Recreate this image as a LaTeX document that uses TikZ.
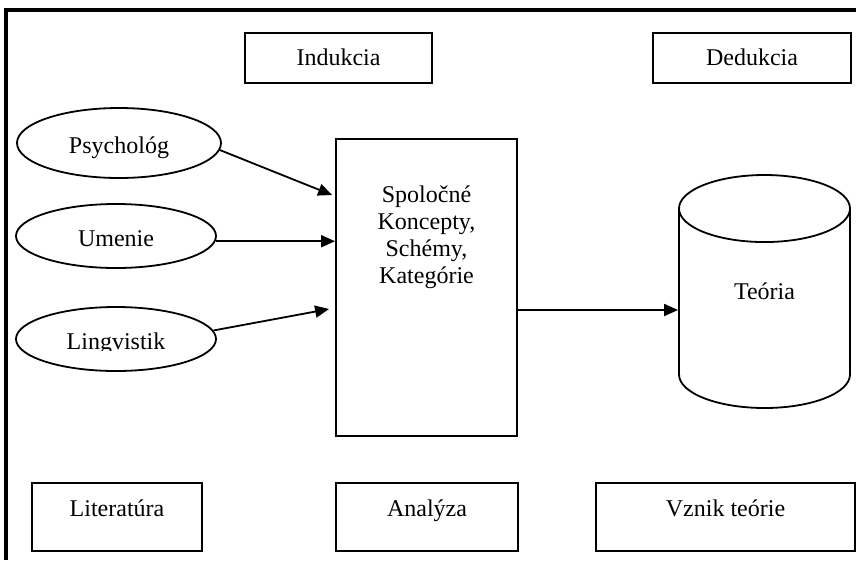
\documentclass[tikz,border=0pt]{standalone}
\usepackage{fontspec}
\setmainfont{Liberation Serif}
\usetikzlibrary{positioning,arrows.meta,shapes.geometric}
\tikzset{
  lbox/.style={rectangle, draw=black, line width=1.8pt, inner sep=0pt,
    font=\fontsize{24}{27}\selectfont},
  topbox/.style={lbox, minimum height=50pt, text height=17pt, text depth=3pt},
  botbox/.style={lbox, minimum height=68pt, text height=10pt, text depth=12pt},
  oval/.style={ellipse, draw=black, line width=1.8pt, inner sep=0pt,
    minimum width=200pt, minimum height=64pt,
    font=\fontsize{24}{27}\selectfont, text height=22pt, text depth=2pt},
  txt/.style={inner sep=0pt, align=center, font=\fontsize{24}{27}\selectfont},
  arr/.style={-{Triangle[length=14pt,width=12pt]}, line width=1.8pt},
  frame/.style={line width=4pt},
}
\begin{document}
\begin{tikzpicture}[x=1pt, y=-1pt]
\useasboundingbox (0,0) rectangle (856,560);
\draw[frame] (856,10) -| (6,560);
% top row
\node[topbox, minimum width=187pt] (ind) at (338.5,58) {Indukcia};
\node[topbox, minimum width=198pt] (ded) at (752,58) {Dedukcia};
% sources
\node[oval, minimum width=204pt, minimum height=70pt] (psy) at (119,143) {Psychológ};
\node[oval] (ume) at (116,236) {Umenie};
\node[oval] (ling) at (116,339) {};
\begin{scope}
  \clip (20,300) rectangle (212,350);
  \node[oval, draw=none] (lingt) at (ling) {Lingvistik};
\end{scope}
% middle
\node[lbox, minimum width=181pt, minimum height=297pt] (kon) at (426.5,287.5) {};
\node[txt, below=47pt of kon.north] (kont) {Spoločné\\Koncepty,\\Schémy,\\Kategórie};
\node[cylinder, shape border rotate=90, draw=black, line width=1.8pt, aspect=1.1,
  minimum width=171pt, minimum height=233pt, inner sep=0pt,
  text height=2pt, text depth=21pt, anchor=shape center,
  font=\fontsize{24}{27}\selectfont] (teo) at (764.5,291.5) {Teória};
% bottom row
\node[botbox, minimum width=170pt] (lit) at (117,517) {Literatúra};
\node[botbox, minimum width=182pt] (ana) at (427,517) {Analýza};
\node[botbox, minimum width=259pt] (vzn) at (725.5,517) {Vznik teórie};
% arrows
\draw[arr] (psy.-4) -- ([shift={(-3pt,92.5pt)}]kon.west);
\draw[arr] (ume.-3) -- (ume.-3 -| kon.west);
\draw[arr] (ling.5) -- ([shift={(-6pt,-21.5pt)}]kon.west);
\draw[arr] ([yshift=-22.5pt]kon.east) -- ([yshift=-22.5pt]kon.east -| teo.west);
\end{tikzpicture}
\end{document}
